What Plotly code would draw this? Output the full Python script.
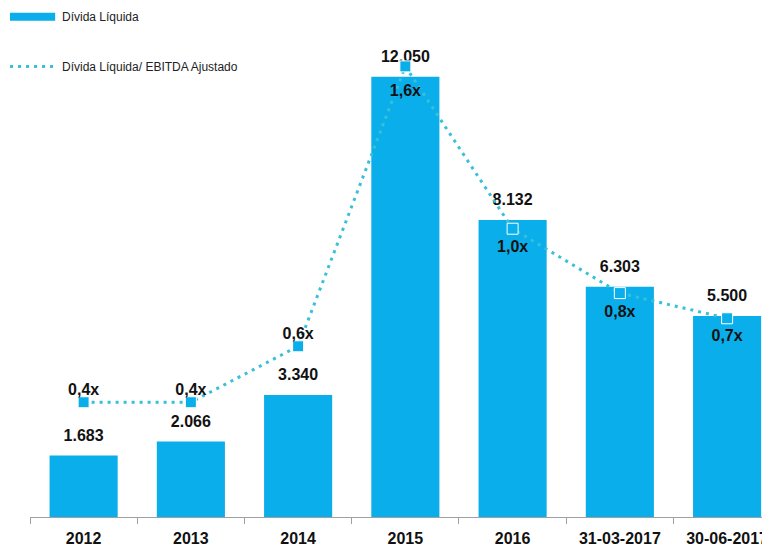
import plotly.graph_objects as go

# dados
periodos = ["2012", "2013", "2014", "2015", "2016", "31-03-2017", "30-06-2017"]
divida_liquida = [1683, 2066, 3340, 12050, 8132, 6303, 5500]
divida_ebitda = [0.4, 0.4, 0.6, 1.6, 1.02, 0.79, 0.7]
ratio_labels = ["0,4x", "0,4x", "0,6x", "1,6x", "1,0x", "0,8x", "0,7x"]
ratio_pos = ["top center"] * 3 + ["bottom center"] * 4

BAR_C = "#0AAEEA"
LINE_C = "#38C0D6"
FONT = "Arial, Liberation Sans, sans-serif"

bar_labels = [f"{v:,}".replace(",", ".") for v in divida_liquida]

fig = go.Figure()
fig.add_trace(go.Bar(
    x=periodos, y=divida_liquida, marker=dict(color=BAR_C, line_width=0),
    width=0.635, name="Dívida Líquida", showlegend=False, hoverinfo="skip",
))
# rótulos dos valores acima das barras
fig.add_trace(go.Scatter(
    x=periodos, y=divida_liquida, mode="markers+text",
    text=[f"<b>{t}</b>" for t in bar_labels],
    textposition="top center", marker=dict(size=16, opacity=0),
    textfont=dict(family=FONT, size=16, color="#111111"),
    showlegend=False, hoverinfo="skip", cliponaxis=False,
))
fig.add_trace(go.Scatter(
    x=periodos, y=divida_ebitda, yaxis="y2", mode="lines+markers",
    line=dict(color=LINE_C, width=3, dash="3px,5px"),
    marker=dict(symbol="square", size=11, color=BAR_C,
                line=dict(color="white", width=1)),
    name="Dívida Líquida/ EBITDA Ajustado", showlegend=False,
    cliponaxis=False,
))
# rótulos do múltiplo (marcador invisível só para afastar o texto)
fig.add_trace(go.Scatter(
    x=periodos, y=divida_ebitda, yaxis="y2", mode="markers+text",
    text=[f"<b>{t}</b>" for t in ratio_labels], textposition=ratio_pos,
    textfont=dict(family=FONT, size=16, color="#111111"),
    marker=dict(size=[3, 3, 3, 27, 17, 17, 15], opacity=0),
    showlegend=False, hoverinfo="skip", cliponaxis=False,
))

# legenda manual (barra larga + linha pontilhada)
fig.add_shape(type="line", xref="paper", yref="paper", x0=-0.027, x1=0.034,
              y0=1.027, y1=1.027, line=dict(color=BAR_C, width=8))
fig.add_shape(type="line", xref="paper", yref="paper", x0=-0.027, x1=0.034,
              y0=0.925, y1=0.925, line=dict(color=LINE_C, width=3, dash="3px,5px"))
for y, txt in [(1.027, "Dívida Líquida"), (0.925, "Dívida Líquida/ EBITDA Ajustado")]:
    fig.add_annotation(xref="paper", yref="paper", x=0.041, y=y, text=txt,
                       xanchor="left", yanchor="middle", showarrow=False,
                       font=dict(family=FONT, size=12, color="#222222"))

fig.update_xaxes(
    range=[-0.5, 6.4], showline=True, linecolor="#a0a0a0", linewidth=1,
    ticks="outside", tickson="boundaries", ticklen=6, tickcolor="#a0a0a0",
    tickvals=periodos, ticktext=[f"<b>{p}</b>" for p in periodos],
    tickfont=dict(family=FONT, size=16, color="#111111"), showgrid=False,
    ticklabelstandoff=7,
)
fig.update_layout(
    width=770, height=547,
    margin=dict(l=22, r=8, t=22, b=36),
    paper_bgcolor="white", plot_bgcolor="white",
    yaxis=dict(range=[0, 13330], visible=False, showgrid=False),
    yaxis2=dict(range=[-0.01, 1.73], overlaying="y", visible=False, showgrid=False),
)
fig.write_html("out.html")
